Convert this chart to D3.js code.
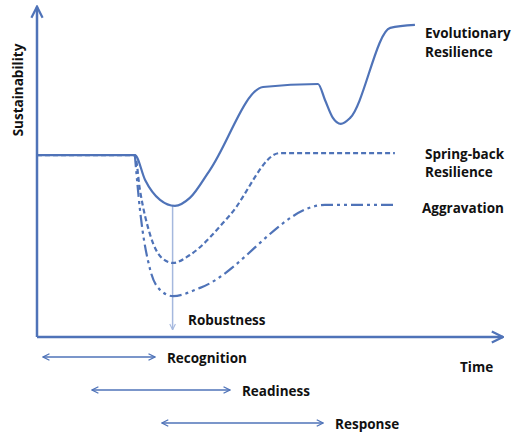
<!DOCTYPE html><html><head><meta charset="utf-8">
<script src="https://cdn.jsdelivr.net/npm/d3@7"></script>
<style>body{margin:0;background:#fff}text{font-family:"Open Sans","DejaVu Sans",sans-serif;font-weight:bold;font-size:13.5px;fill:#111}</style>
</head><body><svg id="c" width="520" height="434"></svg><script>
const evoT=[0,2.10,2.32,2.64,2.96,3.28,3.71,4.85,6.03,6.18,6.35,6.52,6.72,7.58,8.11];
const evoV=[5.48,5.48,4.73,4.13,3.95,4.19,5.03,7.53,7.62,7.14,6.60,6.42,6.60,9.31,9.40];
const sprT=[0,2.10,2.21,2.43,2.68,2.92,3.28,4.14,5.21,7.68];
const sprV=[5.48,5.48,4.42,3.07,2.38,2.23,2.47,3.67,5.54,5.54];
const aggT=[2.10,2.21,2.43,2.64,2.92,3.50,6.18,7.68];
const aggV=[5.48,3.83,2.02,1.42,1.23,1.48,3.98,3.98];
const phases=[["Recognition",0.13,2.53],["Readiness",1.18,4.14],["Response",2.68,6.14]];
const col="#4f73b8", light="#a5b8de";
const svg=d3.select("#c");
const x=d3.scaleLinear().domain([0,10]).range([37,503]);
const y=d3.scaleLinear().domain([0,10]).range([337,5]);
const defs=svg.append("defs");
function mk(id,c,s){defs.append("marker").attr("id",id).attr("viewBox","0 0 10 10").attr("refX",9).attr("refY",5)
 .attr("markerWidth",s).attr("markerHeight",s).attr("orient","auto-start-reverse").attr("markerUnits","userSpaceOnUse")
 .append("path").attr("d","M1,1L9,5L1,9").attr("fill","none").attr("stroke",c).attr("stroke-width",1.6);}
mk("ab",col,14);mk("as",col,8);mk("al",light,7);
svg.append("path").attr("d",`M${x(0)},${y(0)}V${y(9.95)}`).attr("stroke",col).attr("stroke-width",2.5).attr("marker-end","url(#ab)");
svg.append("path").attr("d",`M${x(0)},${y(0)}H${x(10)}`).attr("stroke",col).attr("stroke-width",2.5).attr("marker-end","url(#ab)");
const line=d3.line().x(d=>x(d[0])).y(d=>y(d[1])).curve(d3.curveMonotoneX);
const z=(a,b)=>a.map((t,i)=>[t,b[i]]);
svg.append("line").attr("x1",x(2.91)).attr("x2",x(2.91)).attr("y1",y(3.95)).attr("y2",y(0.22)).attr("stroke",light).attr("stroke-width",1.5).attr("marker-end","url(#al)");
svg.append("path").attr("d",line(z(evoT,evoV))).attr("fill","none").attr("stroke",col).attr("stroke-width",2.2);
svg.append("path").attr("d",line(z(sprT,sprV))).attr("fill","none").attr("stroke",col).attr("stroke-width",2.2).attr("stroke-dasharray","5,3");
svg.append("path").attr("d",line(z(aggT,aggV))).attr("fill","none").attr("stroke",col).attr("stroke-width",2.2).attr("stroke-dasharray","12,4,3,4,3,4");
phases.forEach((p,i)=>{const yy=357+i*33;
 svg.append("line").attr("x1",x(p[1])).attr("x2",x(p[2])).attr("y1",yy).attr("y2",yy).attr("stroke",col).attr("stroke-width",1.5).attr("marker-start","url(#as)").attr("marker-end","url(#as)");
 svg.append("text").attr("x",x(p[2])+12).attr("y",yy+6).text(p[0]);});
svg.append("text").attr("x",188).attr("y",325).text("Robustness");
svg.append("text").attr("x",460).attr("y",372).text("Time");
svg.append("text").attr("transform","translate(23,90) rotate(-90)").attr("text-anchor","middle").attr("font-size",13).text("Sustainability");
[["Evolutionary",425,38],["Resilience",425,57],["Spring-back",425,159],["Resilience",425,177],["Aggravation",422,213]]
 .forEach(d=>svg.append("text").attr("x",d[1]).attr("y",d[2]).text(d[0]));
</script></body></html>
